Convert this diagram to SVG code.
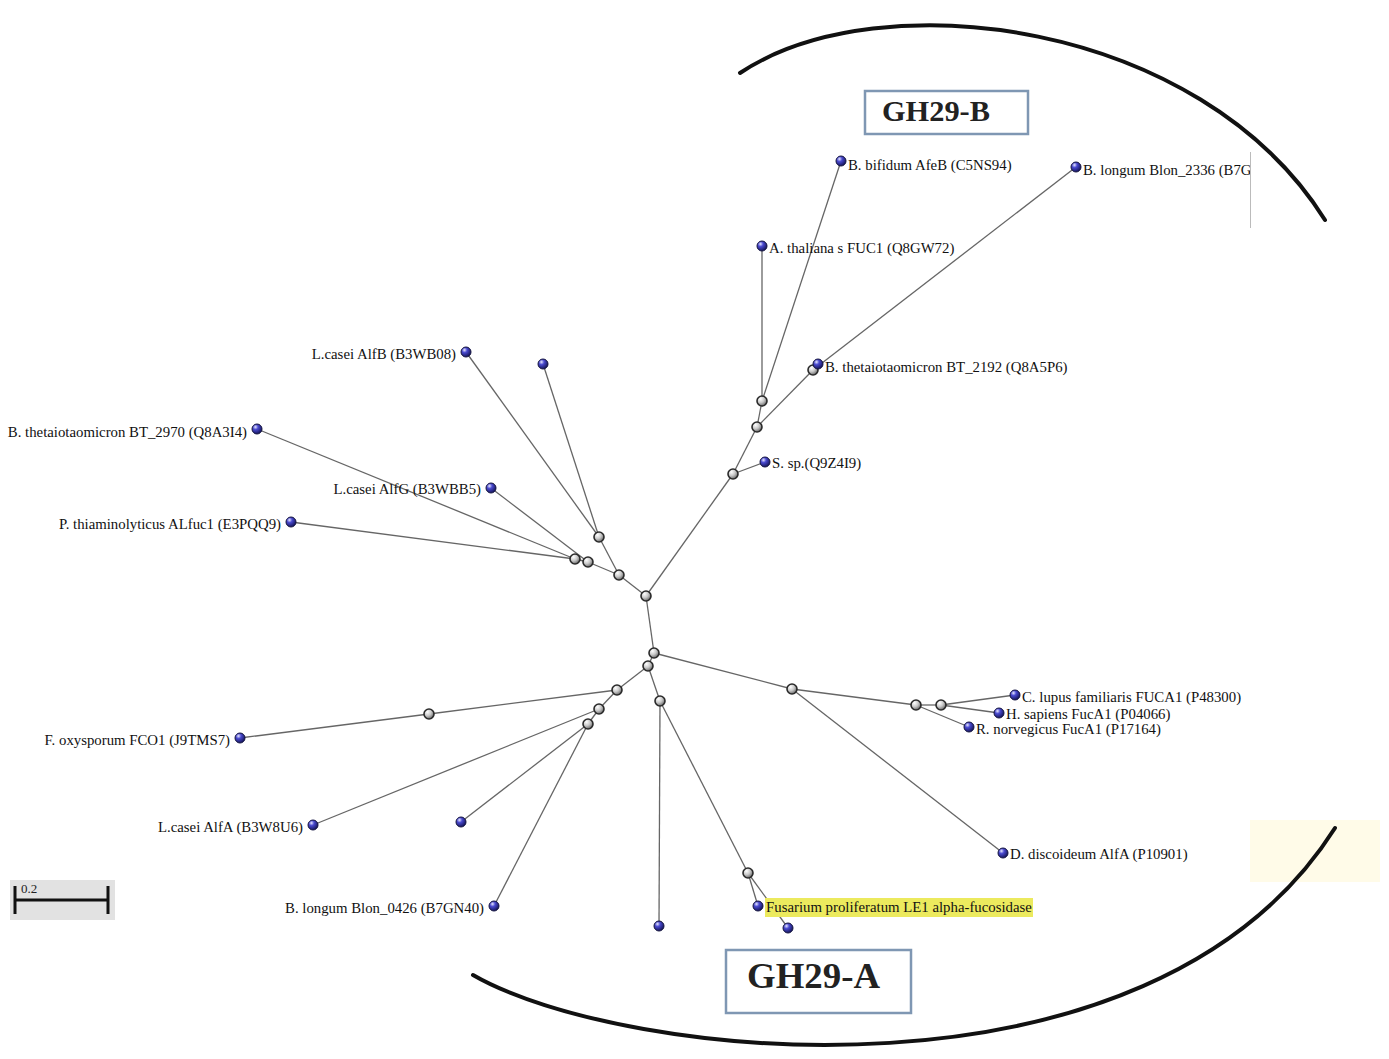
<svg xmlns="http://www.w3.org/2000/svg" width="1389" height="1059" viewBox="0 0 1389 1059">
<defs>
<radialGradient id="gb" cx="0.35" cy="0.3" r="0.75">
<stop offset="0" stop-color="#e8e8ff"/><stop offset="0.35" stop-color="#4a4ad0"/><stop offset="1" stop-color="#101050"/>
</radialGradient>
<radialGradient id="gg" cx="0.35" cy="0.3" r="0.75">
<stop offset="0" stop-color="#ffffff"/><stop offset="0.5" stop-color="#c8c8c8"/><stop offset="1" stop-color="#606060"/>
</radialGradient>
<style>
.e{stroke:#666;stroke-width:1.3;fill:none}
.leaf{fill:url(#gb);stroke:#141440;stroke-width:1}
.int{fill:url(#gg);stroke:#2a2a2a;stroke-width:1.6}
.lb{font-family:"Liberation Serif","Times New Roman",serif;font-size:14.8px;fill:#111}
.arc{stroke:#111;stroke-width:4;fill:none;stroke-linecap:round}
.box{fill:#fff;stroke:#7f97b3;stroke-width:2.5}
.gh{font-family:"Liberation Serif","Times New Roman",serif;font-weight:bold;fill:#222}
</style>
</defs>
<rect width="1389" height="1059" fill="#fff"/>
<rect x="1250" y="820" width="130" height="62" fill="#fffbe8"/>

<g id="connectors">
<line class="e" x1="646" y1="596" x2="733" y2="474"/>
<line class="e" x1="646" y1="596" x2="619" y2="575"/>
<line class="e" x1="646" y1="596" x2="654" y2="653"/>
<line class="e" x1="733" y1="474" x2="765" y2="462"/>
<line class="e" x1="733" y1="474" x2="757" y2="427"/>
<line class="e" x1="757" y1="427" x2="762" y2="401"/>
<line class="e" x1="757" y1="427" x2="813" y2="370"/>
<line class="e" x1="813" y1="370" x2="1076" y2="167"/>
<line class="e" x1="813" y1="370" x2="818" y2="364"/>
<line class="e" x1="762" y1="401" x2="762" y2="246"/>
<line class="e" x1="762" y1="401" x2="841" y2="161"/>
<line class="e" x1="619" y1="575" x2="599" y2="537"/>
<line class="e" x1="619" y1="575" x2="588" y2="562"/>
<line class="e" x1="599" y1="537" x2="466" y2="352"/>
<line class="e" x1="599" y1="537" x2="543" y2="364"/>
<line class="e" x1="588" y1="562" x2="575" y2="559"/>
<line class="e" x1="588" y1="562" x2="491" y2="488"/>
<line class="e" x1="575" y1="559" x2="257" y2="429"/>
<line class="e" x1="575" y1="559" x2="291" y2="522"/>
<line class="e" x1="654" y1="653" x2="648" y2="666"/>
<line class="e" x1="654" y1="653" x2="792" y2="689"/>
<line class="e" x1="792" y1="689" x2="916" y2="705"/>
<line class="e" x1="792" y1="689" x2="1003" y2="853"/>
<line class="e" x1="916" y1="705" x2="941" y2="705"/>
<line class="e" x1="916" y1="705" x2="969" y2="727"/>
<line class="e" x1="941" y1="705" x2="1015" y2="695"/>
<line class="e" x1="941" y1="705" x2="999" y2="713"/>
<line class="e" x1="648" y1="666" x2="617" y2="690"/>
<line class="e" x1="648" y1="666" x2="660" y2="701"/>
<line class="e" x1="617" y1="690" x2="429" y2="714"/>
<line class="e" x1="429" y1="714" x2="240" y2="738"/>
<line class="e" x1="617" y1="690" x2="599" y2="709"/>
<line class="e" x1="599" y1="709" x2="313" y2="825"/>
<line class="e" x1="599" y1="709" x2="588" y2="724"/>
<line class="e" x1="588" y1="724" x2="461" y2="822"/>
<line class="e" x1="588" y1="724" x2="494" y2="906"/>
<line class="e" x1="660" y1="701" x2="659" y2="926"/>
<line class="e" x1="660" y1="701" x2="748" y2="873"/>
<line class="e" x1="748" y1="873" x2="758" y2="906"/>
<line class="e" x1="748" y1="873" x2="788" y2="928"/>
</g>

<g id="internal-nodes">
<circle class="int" cx="646" cy="596" r="5"/>
<circle class="int" cx="733" cy="474" r="5"/>
<circle class="int" cx="757" cy="427" r="5"/>
<circle class="int" cx="762" cy="401" r="5"/>
<circle class="int" cx="813" cy="370" r="5"/>
<circle class="int" cx="619" cy="575" r="5"/>
<circle class="int" cx="599" cy="537" r="5"/>
<circle class="int" cx="588" cy="562" r="5"/>
<circle class="int" cx="575" cy="559" r="5"/>
<circle class="int" cx="654" cy="653" r="5"/>
<circle class="int" cx="648" cy="666" r="5"/>
<circle class="int" cx="792" cy="689" r="5"/>
<circle class="int" cx="916" cy="705" r="5"/>
<circle class="int" cx="941" cy="705" r="5"/>
<circle class="int" cx="617" cy="690" r="5"/>
<circle class="int" cx="599" cy="709" r="5"/>
<circle class="int" cx="588" cy="724" r="5"/>
<circle class="int" cx="429" cy="714" r="5"/>
<circle class="int" cx="660" cy="701" r="5"/>
<circle class="int" cx="748" cy="873" r="5"/>
</g>

<g id="leaf-bifidum"><circle class="leaf" cx="841" cy="161" r="5"/><text class="lb" x="848" y="170">B. bifidum AfeB (C5NS94)</text></g>
<g id="leaf-longum2336"><circle class="leaf" cx="1076" cy="167" r="5"/><text class="lb" x="1083" y="175">B. longum Blon_2336 (B7G</text></g>
<g id="leaf-thaliana"><circle class="leaf" cx="762" cy="246" r="5"/><text class="lb" x="769" y="253">A. thaliana s FUC1 (Q8GW72)</text></g>
<g id="leaf-bt2192"><circle class="leaf" cx="818" cy="364" r="5"/><text class="lb" x="825" y="372">B. thetaiotaomicron BT_2192 (Q8A5P6)</text></g>
<g id="leaf-ssp"><circle class="leaf" cx="765" cy="462" r="5"/><text class="lb" x="772" y="468">S. sp.(Q9Z4I9)</text></g>
<g id="leaf-alfb"><circle class="leaf" cx="466" cy="352" r="5"/><text class="lb" x="456" y="359" text-anchor="end">L.casei AlfB (B3WB08)</text></g>
<g id="leaf-u1"><circle class="leaf" cx="543" cy="364" r="5"/></g>
<g id="leaf-bt2970"><circle class="leaf" cx="257" cy="429" r="5"/><text class="lb" x="247" y="437" text-anchor="end">B. thetaiotaomicron BT_2970 (Q8A3I4)</text></g>
<g id="leaf-alfg"><circle class="leaf" cx="491" cy="488" r="5"/><text class="lb" x="481" y="494" text-anchor="end">L.casei AlfG (B3WBB5)</text></g>
<g id="leaf-pthia"><circle class="leaf" cx="291" cy="522" r="5"/><text class="lb" x="281" y="529" text-anchor="end">P. thiaminolyticus ALfuc1 (E3PQQ9)</text></g>
<g id="leaf-clupus"><circle class="leaf" cx="1015" cy="695" r="5"/><text class="lb" x="1022" y="702">C. lupus familiaris FUCA1 (P48300)</text></g>
<g id="leaf-hsap"><circle class="leaf" cx="999" cy="713" r="5"/><text class="lb" x="1006" y="719">H. sapiens FucA1 (P04066)</text></g>
<g id="leaf-rnor"><circle class="leaf" cx="969" cy="727" r="5"/><text class="lb" x="976" y="734">R. norvegicus FucA1 (P17164)</text></g>
<g id="leaf-ddis"><circle class="leaf" cx="1003" cy="853" r="5"/><text class="lb" x="1010" y="859">D. discoideum AlfA (P10901)</text></g>
<g id="leaf-foxy"><circle class="leaf" cx="240" cy="738" r="5"/><text class="lb" x="230" y="745" text-anchor="end">F. oxysporum FCO1 (J9TMS7)</text></g>
<g id="leaf-alfa"><circle class="leaf" cx="313" cy="825" r="5"/><text class="lb" x="303" y="832" text-anchor="end">L.casei AlfA (B3W8U6)</text></g>
<g id="leaf-u2"><circle class="leaf" cx="461" cy="822" r="5"/></g>
<g id="leaf-longum0426"><circle class="leaf" cx="494" cy="906" r="5"/><text class="lb" x="484" y="913" text-anchor="end">B. longum Blon_0426 (B7GN40)</text></g>
<g id="leaf-u3"><circle class="leaf" cx="659" cy="926" r="5"/></g>
<g id="leaf-fusarium"><rect x="765" y="898" width="268" height="19" fill="#ecea5e"/><circle class="leaf" cx="758" cy="906" r="5"/><text class="lb" x="766" y="912">Fusarium proliferatum LE1 alpha-fucosidase</text></g>
<g id="leaf-u4"><circle class="leaf" cx="788" cy="928" r="5"/></g>

<rect x="1251" y="152" width="138" height="76" fill="#fff"/>
<line x1="1250.5" y1="152" x2="1250.5" y2="228" stroke="#bbb" stroke-width="1"/>

<g id="arcs">
<path class="arc" d="M740,73 C880,-20 1200,20 1325,220"/>
<path class="arc" d="M473,975 C620,1060 1150,1120 1335,828"/>
</g>

<g id="label-gh29b">
<rect class="box" x="865" y="91" width="163" height="43"/>
<text class="gh" x="882" y="121" font-size="29" textLength="108" lengthAdjust="spacingAndGlyphs">GH29-B</text>
</g>
<g id="label-gh29a">
<rect class="box" x="726" y="950" width="185" height="63"/>
<text class="gh" x="747" y="988" font-size="36" textLength="133" lengthAdjust="spacingAndGlyphs">GH29-A</text>
</g>

<g id="scale-bar">
<rect x="10" y="880" width="105" height="40" fill="#e2e2e2"/>
<line x1="15" y1="900" x2="108" y2="900" stroke="#111" stroke-width="3"/>
<line x1="15" y1="886" x2="15" y2="914" stroke="#111" stroke-width="3"/>
<line x1="108" y1="886" x2="108" y2="914" stroke="#111" stroke-width="3"/>
<text x="21" y="893" font-family="Liberation Serif, serif" font-size="13" fill="#222">0.2</text>
</g>
</svg>
